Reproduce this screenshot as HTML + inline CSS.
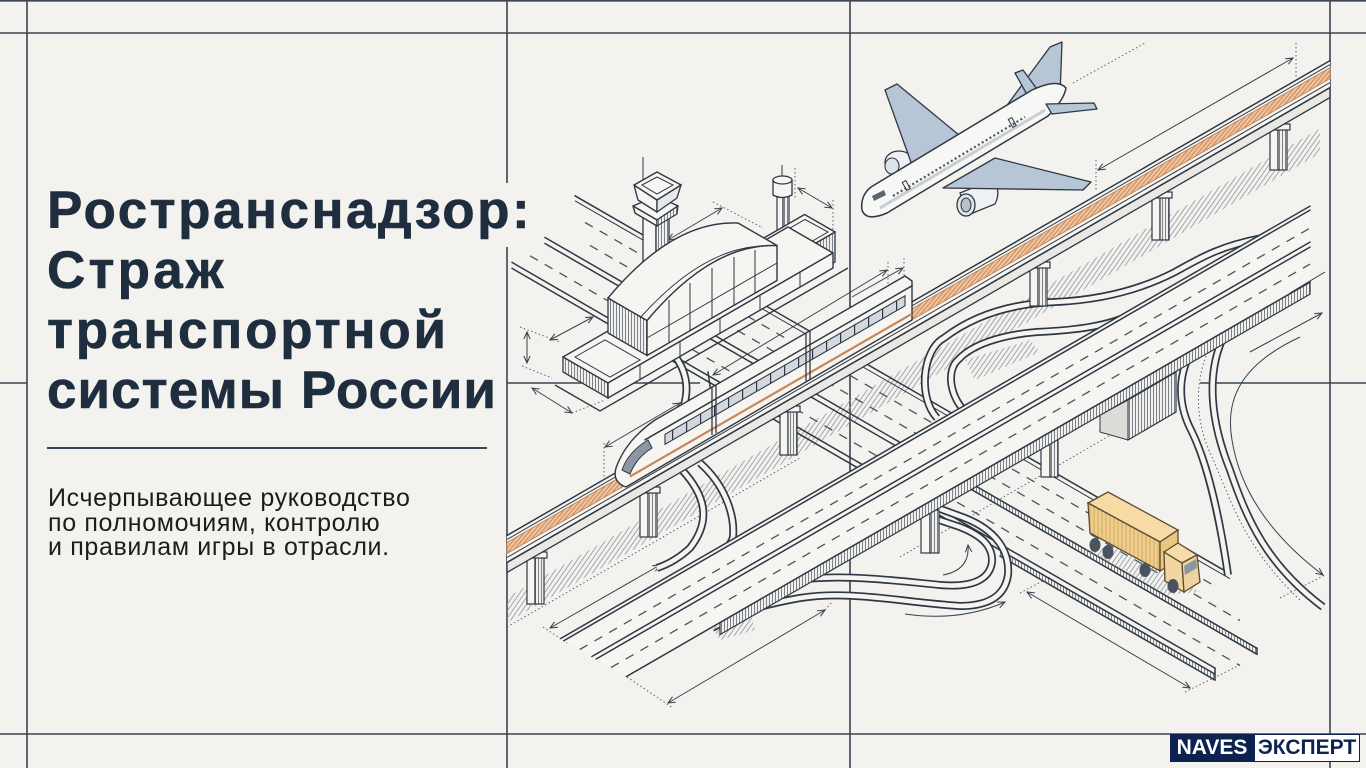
<!DOCTYPE html>
<html><head><meta charset="utf-8">
<style>
html,body{margin:0;padding:0}
body{width:1366px;height:768px;overflow:hidden;background:#f3f2ee;position:relative;font-family:"Liberation Sans",sans-serif}
.title{position:absolute;left:47px;top:181px;font-size:53px;line-height:60px;font-weight:700;color:#1f2e3e;white-space:nowrap;-webkit-text-stroke:0.6px #1f2e3e}
.title span{display:block}
.sub{position:absolute;left:48px;top:486px;font-size:25px;line-height:24.5px;color:#1c1c1c;white-space:nowrap;letter-spacing:0.65px}
.rule{position:absolute;left:47px;top:447px;width:440px;height:2px;background:#3a4350}
.l1{position:absolute;left:1170px;top:734px;width:84px;height:28px;background:#0c2350;color:#fff;font-weight:700;font-size:21px;line-height:28px;text-align:center}
.l2{position:absolute;left:1254px;top:734px;width:104px;height:26px;background:#fff;border:1px solid #0c2350;color:#0c2350;font-weight:700;font-size:21px;line-height:26px;text-align:center}
svg .s{fill:none;stroke:#2e3844;stroke-width:1.5;stroke-linecap:round}
svg .t{fill:none;stroke:#2e3844;stroke-width:1}
svg .d{fill:none;stroke:#4a5360;stroke-width:1.3;stroke-dasharray:9 8}
svg .dot{fill:none;stroke:#59626d;stroke-width:1;stroke-dasharray:1.5 2.5}
svg .ar{fill:none;stroke:#3a4350;stroke-width:1;marker-start:url(#ah);marker-end:url(#ah)}
svg .ar1{fill:none;stroke:#3a4350;stroke-width:1;marker-end:url(#ah)}
svg .dbo{fill:none;stroke:#2e3844;stroke-width:8}
svg .dbi{fill:none;stroke:#f5f4f0;stroke-width:4.6}
svg .f{fill:#f6f5f1;stroke:#2e3844;stroke-width:1.4;stroke-linejoin:round}
svg .b{fill:#b7c6d6;stroke:#2e3844;stroke-width:1.3;stroke-linejoin:round}
</style></head>
<body>
<svg width="1366" height="768" viewBox="0 0 1366 768" style="position:absolute;left:0;top:0" xmlns="http://www.w3.org/2000/svg">
<defs>
<pattern id="hv" width="3" height="8" patternUnits="userSpaceOnUse"><rect width="3" height="8" fill="#f1f0ec"/><line x1="1.5" y1="0" x2="1.5" y2="8" stroke="#5d6772" stroke-width="0.8"/></pattern>
<pattern id="hd" width="4" height="8" patternUnits="userSpaceOnUse" patternTransform="rotate(35)"><line x1="2" y1="0" x2="2" y2="8" stroke="#8d949c" stroke-width="0.8"/></pattern>
<pattern id="ties" width="3.2" height="8" patternUnits="userSpaceOnUse" patternTransform="rotate(40)"><rect width="3.2" height="8" fill="#efc6a2"/><line x1="1.6" y1="0" x2="1.6" y2="8" stroke="#c98658" stroke-width="1"/></pattern>
<pattern id="win" width="14" height="30" patternUnits="userSpaceOnUse"><rect width="14" height="30" fill="#d3d8de"/><line x1="0.6" y1="0" x2="0.6" y2="30" stroke="#2e3844" stroke-width="1.2"/></pattern>
<pattern id="ys" width="4" height="30" patternUnits="userSpaceOnUse"><rect width="4" height="30" fill="#efcd8c"/><line x1="2" y1="0" x2="2" y2="30" stroke="#c7a25a" stroke-width="0.8"/></pattern>
<marker id="ah" viewBox="0 0 10 10" refX="9" refY="5" markerWidth="8" markerHeight="8" markerUnits="userSpaceOnUse" orient="auto-start-reverse"><path d="M0,1 L9,5 L0,9" fill="none" stroke="#3a4350" stroke-width="1.3"/></marker>
</defs>

<!-- grid -->
<g stroke="#3b4451" stroke-width="1.6">
<line x1="0" y1="0.8" x2="1366" y2="0.8"/>
<line x1="0" y1="33" x2="1366" y2="33"/>
<line x1="0" y1="734" x2="1366" y2="734"/>
<line x1="27" y1="0" x2="27" y2="768"/>
<line x1="507" y1="0" x2="507" y2="183"/>
<line x1="507" y1="247" x2="507" y2="768"/>
<line x1="850" y1="0" x2="850" y2="768"/>
<line x1="1330" y1="0" x2="1330" y2="768"/>
<line x1="0" y1="383" x2="27" y2="383"/>
<line x1="507" y1="383" x2="700" y2="383"/>
<line x1="1200" y1="383" x2="1366" y2="383"/>
</g>

<!-- rail shadow hatch -->
<polygon points="507,597.5 1320,128.4 1320,153.4 507,622.5" fill="url(#hd)"/>
<line x1="507" y1="627" x2="800" y2="458" class="dot"/>
<line x1="900" y1="557" x2="1140" y2="418" class="dot"/>

<!-- dimension arrows & dotted -->
<line x1="668" y1="240" x2="722" y2="208" class="ar"/>
<line x1="713" y1="202" x2="763" y2="228" class="dot"/>
<line x1="550" y1="340" x2="593" y2="317" class="ar"/>
<line x1="527" y1="332" x2="527" y2="363" class="ar"/>
<line x1="520" y1="327" x2="560" y2="342" class="dot"/>
<line x1="522" y1="366" x2="552" y2="378" class="dot"/>
<line x1="532" y1="388" x2="572" y2="413" class="ar"/>
<line x1="572" y1="413" x2="605" y2="400" class="dot"/>
<line x1="798" y1="188" x2="832" y2="208" class="ar"/>
<line x1="833" y1="200" x2="833" y2="245" class="dot"/>
<line x1="795" y1="168" x2="795" y2="200" class="dot"/>
<line x1="605" y1="447" x2="680" y2="403" class="ar"/>
<line x1="604" y1="443" x2="604" y2="485" class="dot"/>
<line x1="713" y1="375" x2="887" y2="270" class="ar"/>
<line x1="888" y1="262" x2="888" y2="306" class="dot"/>
<line x1="1098" y1="170" x2="1293" y2="58" class="ar"/>
<line x1="1296" y1="43" x2="1296" y2="78" class="dot"/>
<line x1="1096" y1="160" x2="1096" y2="192" class="dot"/>
<line x1="1073" y1="83" x2="1145" y2="43" class="dot"/>
<line x1="852" y1="297" x2="903" y2="268" class="ar1"/>
<line x1="904" y1="258" x2="904" y2="300" class="dot"/>
<line x1="550" y1="628" x2="660" y2="565" class="ar"/>
<line x1="543" y1="627" x2="567" y2="643" class="dot"/>
<line x1="668" y1="703" x2="825" y2="610" class="ar"/>
<line x1="627" y1="677" x2="673" y2="708" class="dot"/>
<line x1="825" y1="610" x2="832" y2="602" class="dot"/>
<line x1="1027" y1="592" x2="1190" y2="688" class="ar"/>
<line x1="1020" y1="593" x2="1050" y2="577" class="dot"/>
<line x1="1185" y1="692" x2="1240" y2="665" class="dot"/>
<line x1="1280" y1="598" x2="1325" y2="575" class="dot"/>
<line x1="1250" y1="352" x2="1322" y2="313" class="ar1"/>

<!-- ground v-road -->
<line x1="575" y1="195.8" x2="1230" y2="573.7" class="s"/>
<line x1="575" y1="200.8" x2="1230" y2="578.7" class="t"/>
<line x1="585" y1="222.5" x2="1215" y2="586.1" class="d"/>
<line x1="590" y1="245.4" x2="1240" y2="620.5" class="d"/>
<polygon points="960,476.9 1257,648.3 1257,654.3 960,482.9" fill="url(#hv)"/>
<line x1="545" y1="237.5" x2="1257" y2="648.3" class="s"/>
<line x1="545" y1="243.5" x2="1257" y2="654.3" class="s"/>
<line x1="530" y1="255.8" x2="1240" y2="665.5" class="d"/>
<polygon points="1000,550 1215,674.1 1215,680.1 1000,556" fill="url(#hv)"/>
<line x1="512" y1="262.4" x2="1215" y2="668.1" class="s"/>
<line x1="512" y1="268.4" x2="1215" y2="674.1" class="s"/>
<line x1="1000" y1="556" x2="1215" y2="680.1" class="s"/>
<line x1="1215" y1="668" x2="1215" y2="680" class="s"/>
<line x1="1257" y1="648" x2="1257" y2="654" class="s"/>

<!-- ground plate -->
<polyline points="555,385 600,411 848,268" fill="none" stroke="#2e3844" stroke-width="1.4"/>

<!-- bottom loops / ramps -->
<path d="M 712,628 C 740,612 760,605 800,598 C 850,590 900,602 960,606 C 990,606 1005,595 1008,575 C 1010,550 995,530 965,518 L 935,507" class="dbo"/>
<path d="M 712,628 C 740,612 760,605 800,598 C 850,590 900,602 960,606 C 990,606 1005,595 1008,575 C 1010,550 995,530 965,518 L 935,507" class="dbi"/>
<path d="M 780,583 C 830,572 890,580 940,585 C 975,588 990,578 992,562 C 993,545 980,535 960,527 L 930,517" class="dbo"/>
<path d="M 780,583 C 830,572 890,580 940,585 C 975,588 990,578 992,562 C 993,545 980,535 960,527 L 930,517" class="dbi"/>
<polygon points="712,628 750,612 755,630 720,640" fill="url(#hd)"/>
<path d="M 943,575 Q 970,570 968,545" class="ar1"/>
<path d="M 905,614 Q 960,622 1005,602" class="ar1"/>

<!-- left S ramps -->
<path d="M 682,470 C 705,495 712,520 690,548 Q 675,562 657,568" class="dbo"/>
<path d="M 682,470 C 705,495 712,520 690,548 Q 675,562 657,568" class="dbi"/>
<path d="M 700,463 C 725,485 735,515 733,537 Q 730,548 717,555" class="dbo"/>
<path d="M 700,463 C 725,485 735,515 733,537 Q 730,548 717,555" class="dbi"/>
<path d="M 668,348 C 685,365 690,385 684,405" class="dbo"/>
<path d="M 668,348 C 685,365 690,385 684,405" class="dbi"/>
<path d="M 708,372 L 712,400" class="s"/>

<!-- upper loop -->
<path d="M 937,418 C 918,398 922,350 944,338 C 965,322 1000,304 1055,302 C 1100,300 1140,290 1175,272 C 1200,258 1220,246 1262,238 L 1300,232" class="dbo"/>
<path d="M 937,418 C 918,398 922,350 944,338 C 965,322 1000,304 1055,302 C 1100,300 1140,290 1175,272 C 1200,258 1220,246 1262,238 L 1300,232" class="dbi"/>
<path d="M 969,415 C 950,400 945,370 959,359 C 972,345 1000,335 1037,332 C 1080,330 1110,325 1130,315 L 1165,300" class="dbo"/>
<path d="M 969,415 C 950,400 945,370 959,359 C 972,345 1000,335 1037,332 C 1080,330 1110,325 1130,315 L 1165,300" class="dbi"/>
<polygon points="965,360 1030,340 1040,352 975,380" fill="url(#hd)"/>

<!-- right S curves -->
<path d="M 1200,340 C 1178,365 1175,400 1192,432 C 1208,465 1220,520 1228,575" class="dbo"/>
<path d="M 1200,340 C 1178,365 1175,400 1192,432 C 1208,465 1220,520 1228,575" class="dbi"/>
<path d="M 1222,340 C 1207,375 1210,420 1230,470 C 1247,520 1267,565 1323,607" class="dbo"/>
<path d="M 1222,340 C 1207,375 1210,420 1230,470 C 1247,520 1267,565 1323,607" class="dbi"/>
<path d="M 1211,345 C 1194,378 1194,420 1212,457 C 1230,497 1242,545 1300,600" class="dot"/>
<path d="M 1300,337 C 1240,365 1225,400 1232,440 C 1240,490 1270,535 1323,575" class="ar1"/>

<!-- overpass piers / wall -->
<rect x="1041" y="440" width="9" height="37" fill="#f6f5f1" stroke="#2e3844" stroke-width="1.2"/>
<rect x="1050" y="440" width="8" height="37" fill="url(#hv)" stroke="#2e3844" stroke-width="1.2"/>
<rect x="921" y="510" width="9" height="43" fill="#f6f5f1" stroke="#2e3844" stroke-width="1.2"/>
<rect x="930" y="510" width="9" height="43" fill="url(#hv)" stroke="#2e3844" stroke-width="1.2"/>
<polygon points="1128,400 1176,372 1176,412 1128,440" fill="url(#hv)" stroke="#2e3844" stroke-width="1.2"/>
<polygon points="1100,415 1128,400 1128,440 1100,432" fill="#dcdcd8" stroke="#2e3844" stroke-width="1"/>

<!-- overpass -->
<polygon points="560.7,638.5 1310,206.1 1310,282.1 626.5,676.5" fill="#f6f5f1"/>
<polygon points="720,622.6 1310,282.1 1310,294.1 720,634.6" fill="url(#hv)" stroke="#2e3844" stroke-width="1.2"/>
<line x1="560.7" y1="638.5" x2="1310" y2="206.1" class="s"/>
<line x1="564" y1="640.6" x2="1310" y2="210.1" class="s"/>
<line x1="579.7" y1="649.5" x2="1310" y2="228.1" class="d"/>
<line x1="591.9" y1="656.5" x2="1310" y2="242.1" class="s"/>
<line x1="596.2" y1="659" x2="1310" y2="247.1" class="s"/>
<line x1="611" y1="667.5" x2="1310" y2="264.1" class="d"/>
<line x1="626.5" y1="676.5" x2="1310" y2="282.1" class="s"/>
<line x1="1290" y1="293" x2="1325" y2="272" class="t"/>

<!-- rail piers -->
<g stroke="#2e3844" stroke-width="1.2">
<rect x="527" y="554" width="8" height="50" fill="#f6f5f1"/><rect x="535" y="554" width="9" height="50" fill="url(#hv)"/><rect x="523" y="552" width="24" height="6" fill="#f6f5f1"/>
<rect x="640" y="489" width="8" height="48" fill="#f6f5f1"/><rect x="648" y="489" width="9" height="48" fill="url(#hv)"/><rect x="636" y="487" width="24" height="6" fill="#f6f5f1"/>
<rect x="780" y="408" width="8" height="47" fill="#f6f5f1"/><rect x="788" y="408" width="9" height="47" fill="url(#hv)"/><rect x="776" y="406" width="24" height="6" fill="#f6f5f1"/>
<rect x="1030" y="264" width="8" height="42" fill="#f6f5f1"/><rect x="1038" y="264" width="9" height="42" fill="url(#hv)"/><rect x="1026" y="262" width="24" height="6" fill="#f6f5f1"/>
<rect x="1152" y="194" width="8" height="46" fill="#f6f5f1"/><rect x="1160" y="194" width="9" height="46" fill="url(#hv)"/><rect x="1148" y="192" width="24" height="6" fill="#f6f5f1"/>
<rect x="1270" y="126" width="8" height="44" fill="#f6f5f1"/><rect x="1278" y="126" width="9" height="44" fill="url(#hv)"/><rect x="1266" y="124" width="24" height="6" fill="#f6f5f1"/>
</g>

<!-- rail deck -->
<polygon points="507,535.5 1330,60.6 1330,87.6 507,562.5" fill="#f6f5f1"/>
<polygon points="507,562.5 1330,87.6 1330,97.6 507,572.5" fill="#e9e8e3" stroke="#2e3844" stroke-width="1.3"/>
<polygon points="507,542.5 1330,67.6 1330,78.6 507,553.5" fill="url(#ties)" stroke="#c98658" stroke-width="1"/>
<line x1="507" y1="535.5" x2="1330" y2="60.6" class="s"/>
<line x1="507" y1="539.5" x2="1330" y2="64.6" class="t"/>
<line x1="507" y1="557.5" x2="1330" y2="82.6" class="t"/>
<line x1="507" y1="562.5" x2="1330" y2="87.6" class="s"/>

<!-- train -->
<path d="M 655,420 L 905,276 L 912,281 L 912,320 L 626,487 Q 612,482 616,468 Q 626,440 655,420 Z" class="f"/>
<line x1="645" y1="439.8" x2="912" y2="285.8" class="s"/>
<polygon points="665,434.3 905,295.8 905,305.8 665,444.3" fill="url(#win)" stroke="#2e3844" stroke-width="1.1"/>
<line x1="630" y1="476.5" x2="912" y2="313.8" stroke="#c98658" stroke-width="2.2"/>
<g stroke="#2e3844" stroke-width="1.3">
<line x1="712" y1="387" x2="712" y2="435"/><line x1="716" y1="385" x2="716" y2="433"/>
<line x1="806" y1="333" x2="806" y2="381"/><line x1="810" y1="331" x2="810" y2="379"/>
</g>
<path d="M 622,470 Q 628,452 648,440 L 652,448 Q 636,458 630,474 Z" fill="#8c97a3" stroke="#2e3844" stroke-width="1"/>

<!-- small tower -->
<rect x="777" y="195" width="6" height="40" fill="#f6f5f1" stroke="#2e3844" stroke-width="1.2"/>
<rect x="783" y="195" width="6" height="40" fill="url(#hv)" stroke="#2e3844" stroke-width="1.2"/>
<path d="M 773,180 L 773,195 Q 782,200 792,195 L 792,180 Z" fill="#f6f5f1" stroke="#2e3844" stroke-width="1.3"/>
<ellipse cx="782.5" cy="180" rx="9.5" ry="4" fill="#f6f5f1" stroke="#2e3844" stroke-width="1.3"/>
<line x1="782" y1="165" x2="782" y2="176" class="t"/>

<!-- control tower -->
<line x1="643" y1="157" x2="643" y2="183" class="t"/>
<rect x="643" y="212" width="13" height="95" fill="#f6f5f1" stroke="#2e3844" stroke-width="1.3"/>
<rect x="656" y="212" width="13" height="95" fill="url(#hv)" stroke="#2e3844" stroke-width="1.3"/>
<polygon points="633,206 657,196 678,206 657,220" class="f"/>
<polygon points="633,206 657,220 657,226 635,213" class="f"/>
<polygon points="657,220 678,206 677,214 657,226" fill="url(#hv)" stroke="#2e3844" stroke-width="1.2"/>
<polygon points="634,185 657,200 657,212 638,200" class="f"/>
<polygon points="657,200 681,185 677,198 657,212" fill="#e6e8ea" stroke="#2e3844" stroke-width="1.3"/>
<polygon points="634,185 657,172 681,185 657,200" class="f"/>
<polygon points="642,185 657,177 673,185 657,194" fill="none" stroke="#2e3844" stroke-width="1"/>

<!-- terminal: right block -->
<polygon points="777,265.5 835,232 835,262 777,295.5" fill="url(#hv)" stroke="#2e3844" stroke-width="1.3"/>
<polygon points="746.6,248 804.6,214.5 835,232 777,265.5" class="f"/>
<polygon points="755,248 805,219.5 828,232 778,261" fill="none" stroke="#2e3844" stroke-width="1"/>
<!-- podium -->
<polygon points="563,357 788,227 833,253 608,383" class="f"/>
<polygon points="563,357 608,383 608,398 563,372" fill="url(#hv)" stroke="#2e3844" stroke-width="1.3"/>
<polygon points="608,383 833,253 833,268 608,398" class="f"/>
<polygon points="575,357 605,340 640,360 610,377" fill="none" stroke="#2e3844" stroke-width="1"/>
<g stroke="#2e3844" stroke-width="1"><line x1="640" y1="365" x2="640" y2="380"/><line x1="680" y1="342" x2="680" y2="357"/><line x1="720" y1="319" x2="720" y2="334"/><line x1="760" y1="296" x2="760" y2="311"/><line x1="800" y1="272" x2="800" y2="287"/></g>
<!-- hall -->
<path d="M608,333 L647,355.5 L647,320.5 L608,298 Z" fill="url(#hv)" stroke="#2e3844" stroke-width="1.3"/>
<path d="M647,355.5 L777,280.5 L777,245.5 Q712,243 647,320.5 Z" class="f"/>
<g stroke="#2e3844" stroke-width="1">
<line x1="669" y1="343" x2="669" y2="300"/><line x1="690" y1="331" x2="690" y2="283"/><line x1="712" y1="318" x2="712" y2="268"/><line x1="734" y1="305" x2="734" y2="257"/><line x1="755" y1="293" x2="755" y2="250"/>
<line x1="647" y1="338" x2="777" y2="263"/>
</g>
<path d="M647,320.5 Q712,243 777,245.5 L738,223 Q673,220 608,298 Z" class="f"/>
<path d="M640,318 Q705,245 768,246" fill="none" stroke="#2e3844" stroke-width="1"/>

<!-- airplane -->
<ellipse cx="899" cy="162" rx="14" ry="11" fill="#eef0f1" stroke="#2e3844" stroke-width="1.3"/>
<ellipse cx="892" cy="166" rx="7" ry="8" fill="#dfe3e7" stroke="#2e3844" stroke-width="1.1"/>
<polygon points="912,165 885,90 897,84 965,140" class="b"/>
<polygon points="1005,108 1050,47 1062,42 1060,95" class="b"/>
<polygon points="1015,73 1023,70 1042,96 1030,100" class="b"/>
<path d="M 871,187 L 1032,90 Q 1058,78 1066,88 Q 1064,100 1048,116 L 887,213 Q 866,222 862,210 Q 860,196 871,187 Z" fill="#f7f7f5" stroke="#2e3844" stroke-width="1.5"/>
<path d="M 880,208 L 1045,110" fill="none" stroke="#c9ced4" stroke-width="3"/>
<line x1="893" y1="196" x2="1025" y2="117" stroke="#4b5560" stroke-width="2.2" stroke-dasharray="2 2.5"/>
<path d="M 872,196 L 884,190 L 886,195 L 874,201 Z" fill="#5b6672"/>
<rect x="904" y="181" width="4" height="9" fill="none" stroke="#2e3844" stroke-width="1" transform="rotate(-30 906 185)"/>
<rect x="1010" y="118" width="4" height="9" fill="none" stroke="#2e3844" stroke-width="1" transform="rotate(-30 1012 122)"/>
<polygon points="1046,104 1094,103 1097,109 1052,114" class="b"/>
<path d="M 960,193 L 992,180 Q 1002,190 995,204 L 968,215 Z" fill="#eef0f1" stroke="#2e3844" stroke-width="1.3"/>
<ellipse cx="966" cy="205" rx="9" ry="11" fill="#e3e6e9" stroke="#2e3844" stroke-width="1.3"/>
<ellipse cx="966" cy="205" rx="5" ry="7" fill="#b9c0c8" stroke="#2e3844" stroke-width="1"/>
<polygon points="943,188 995,158 1091,182 1083,190" class="b"/>

<!-- truck -->
<polygon points="1085,550 1165,595 1200,592 1120,545" fill="url(#hd)"/>
<polygon points="1088,503 1108,492 1178,530 1160,542" fill="#f6dba5" stroke="#5a4a30" stroke-width="1.3"/>
<polygon points="1088,503 1160,542 1160,571 1090,533" fill="url(#ys)" stroke="#5a4a30" stroke-width="1.3"/>
<polygon points="1160,542 1178,530 1178,560 1160,571" fill="#ecc680" stroke="#5a4a30" stroke-width="1.3"/>
<polygon points="1164,552 1182,563 1184,592 1165,581" fill="#f1d6a0" stroke="#5a4a30" stroke-width="1.3"/>
<polygon points="1164,552 1178,543 1197,555 1182,563" fill="#f5dcaa" stroke="#5a4a30" stroke-width="1.3"/>
<polygon points="1182,563 1197,555 1200,582 1184,592" fill="#ecd3a0" stroke="#5a4a30" stroke-width="1.3"/>
<polygon points="1184,566 1196,559 1197,568 1185,575" fill="#8c97a3"/>
<g fill="#4a5360"><ellipse cx="1095" cy="545" rx="5.5" ry="7"/><ellipse cx="1108" cy="552" rx="5.5" ry="7"/><ellipse cx="1145" cy="570" rx="5.5" ry="7"/><ellipse cx="1173" cy="586" rx="5.5" ry="7"/></g>
</svg>

<div class="title"><span style="letter-spacing:2.5px">Ространснадзор:</span><span style="letter-spacing:3.2px">Страж</span><span style="letter-spacing:2.8px">транспортной</span><span style="letter-spacing:1.05px">системы России</span></div>
<div class="rule"></div>
<div class="sub">Исчерпывающее руководство<br>по полномочиям, контролю<br>и правилам игры в отрасли.</div>
<div class="l1">NAVES</div>
<div class="l2">ЭКСПЕРТ</div>
</body></html>
